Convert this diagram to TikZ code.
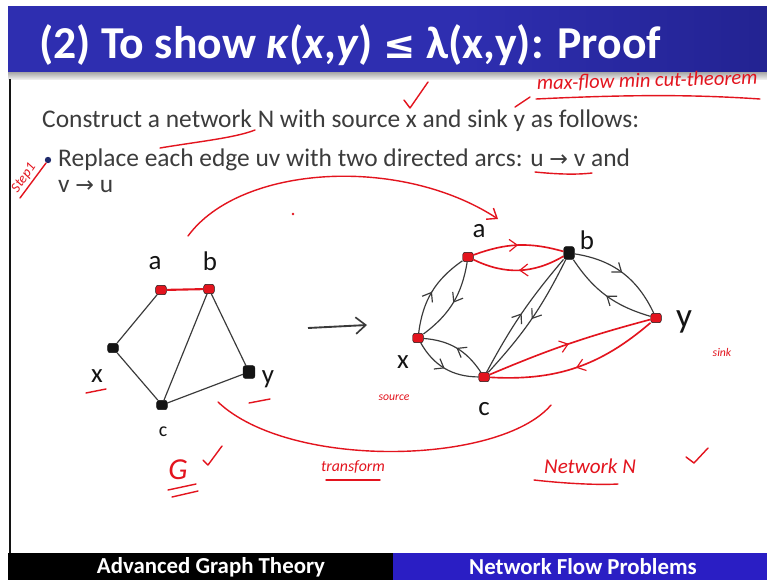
\documentclass[tikz,border=0pt]{standalone}
\usepackage{fontspec}
\setmainfont{Carlito}
\newfontfamily\symfont{DejaVu Sans}
\usetikzlibrary{arrows.meta,positioning,decorations.markings}
\definecolor{titleblue}{HTML}{2E2EB0}
\definecolor{titleblue2}{HTML}{20208A}
\definecolor{footblue}{HTML}{2A1EC4}
\definecolor{bodygray}{HTML}{3C3C3C}
\definecolor{bulletblue}{HTML}{1F2A6B}
\definecolor{inkred}{HTML}{E3141E}
\definecolor{edgegray}{HTML}{3A3A3A}
\definecolor{vblack}{HTML}{141414}
\pgfdeclarehorizontalshading{titlebar}{100bp}{color(0bp)=(titleblue); color(55bp)=(titleblue); color(80bp)=(titleblue2); color(100bp)=(black)}
\newcommand{\arr}{{\symfont\fontsize{19}{22}\selectfont →}}
\tikzset{
  titletext/.style={text=white,font=\bfseries\fontsize{39}{45}\selectfont,inner sep=0pt},
  bodytext/.style={text=bodygray,font=\fontsize{21.7}{26}\selectfont,inner sep=0pt},
  foottext/.style={text=white,font=\bfseries\fontsize{19.5}{22}\selectfont,inner sep=0pt},
  vert/.style={rectangle,rounded corners=2pt,fill=vblack,draw=vblack,inner sep=0pt,
               minimum width=9pt,minimum height=8pt},
  redvert/.style={vert,fill=inkred},
  hand/.style={text=vblack,font=\fontsize{23}{26}\selectfont,inner sep=0pt},
  note/.style={text=inkred,font=\itshape\fontsize{14}{16}\selectfont,inner sep=0pt},
  edge/.style={draw=edgegray,line width=1pt},
  rededge/.style={draw=inkred,line width=1.8pt},
  arc/.style={draw=edgegray,line width=1pt,postaction={decorate},
              decoration={markings,mark=at position 0.5 with
                {\arrow{Straight Barb[length=2.4mm,width=3.6mm,line width=1pt]}}}},
  redarc/.style={arc,draw=inkred,line width=1.4pt},
  ink/.style={draw=inkred,line width=1.2pt,line cap=round,line join=round},
  bigarr/.style={draw=edgegray,line width=1.6pt,-{Straight Barb[length=3mm,width=5mm,line width=1.4pt]}}
}
\begin{document}
\begin{tikzpicture}[x=0.03cm,y=-0.03cm]
  \path[use as bounding box,fill=white] (0,0) rectangle (767,580);

  % title bar and frame
  \shade[shading=titlebar] (8,6) rectangle (767,72);
  \shade[top color=gray!70,bottom color=gray!15] (8,72) rectangle (767,79);
  \draw[vblack,line width=1.5pt] (10,79) -- (10,553);
  \node[titletext,anchor=base west] (title) at (39,58)
    {(2) To show \textit{κ}(\textit{x},\textit{y}) {\symfont\bfseries\fontsize{33}{40}\selectfont ≤} λ(x,y): Proof};

  % footer
  \fill[black] (8,553) rectangle (393,580);
  \fill[footblue] (393,553) rectangle (767,580);
  \node[foottext] (foot1) at (211,567) {Advanced Graph Theory};
  \node[foottext] (foot2) at (583,567) {Network Flow Problems};

  % text lines
  \node[bodytext,anchor=base west] (line1) at (42,127)
    {Construct a network N with source x and sink y as follows:};
  \fill[bulletblue] (48,160) circle (3.2);
  \node[bodytext,anchor=base west] (line2) at (58,166)
    {Replace each edge uv with two directed arcs: u \arr{} v and};
  \node[bodytext,anchor=base west] (line3) at (58,192) {v \arr{} u};

  % graph G
  \node[redvert] (la) at (161,290) {};
  \node[redvert] (lb) at (209,289) {};
  \node[vert] (lx) at (113,348) {};
  \node[vert,minimum width=10pt,minimum height=11pt] (ly) at (249,372) {};
  \node[vert] (lc) at (162,405) {};
  \draw[rededge] (la) -- (lb);
  \draw[edge] (la) -- (lx);
  \draw[edge] (lx) -- (lc);
  \draw[edge] (lc) -- (lb);
  \draw[edge] (lb) -- (ly);
  \draw[edge] (ly) -- (lc);
  \node[hand] (la-lbl) at (155,263) {a};
  \node[hand] (lb-lbl) at (210,261) {b};
  \node[hand] (lx-lbl) at (97,376) {x};
  \node[hand] (ly-lbl) at (268,379) {y};
  \node[hand,font=\fontsize{17}{20}\selectfont] (lc-lbl) at (163,432) {c};

  % transform arrow
  \coordinate (t1) at (308,328);
  \coordinate (t2) at (367,325);
  \draw[bigarr] (t1) -- (t2);

  % network N
  \node[redvert] (ra) at (468,257) {};
  \node[vert,minimum height=11pt] (rb) at (569,253) {};
  \node[redvert] (rx) at (418,338) {};
  \node[redvert] (rc) at (484,377) {};
  \node[redvert] (ry) at (656,318) {};
  \draw[redarc] (ra) to[bend left=18] (rb);
  \draw[redarc] (rb) to[bend left=28] (ra);
  \draw[arc] (rx) to[bend left=24] (ra);
  \draw[arc] (ra) to[bend left=22] (rx);
  \draw[arc] (rb) to[bend left=28] (ry);
  \draw[arc] (ry) to[bend left=20] (rb);
  \draw[arc] (rc) to[bend right=26] (rx);
  \draw[arc] (rx) to[bend right=30] (rc);
  \draw[arc] (rc) to[bend left=6] (rb);
  \draw[arc] (rb) to[bend left=8] (rc);
  \draw[redarc] (rc) to[bend left=4] (ry);
  \draw[redarc] (ry) to[bend left=22] (rc);
  \node[hand] (ra-lbl) at (479,231) {a};
  \node[hand] (rb-lbl) at (587,240) {b};
  \node[hand] (rx-lbl) at (403,362) {x};
  \node[hand] (rc-lbl) at (484,409) {c};
  \node[hand,font=\fontsize{30}{32}\selectfont] (ry-lbl) at (684,322) {y};
  \node[note,font=\itshape\fontsize{10}{12}\selectfont] (src) at (394,398) {source};
  \node[note,font=\itshape\fontsize{10}{12}\selectfont] (snk) at (722,352) {sink};

  % red handwriting
  \node[note,rotate=1.5,anchor=base west,font=\itshape\fontsize{17.5}{20}\selectfont] (thm) at (537,90) {max-flow min cut-theorem};
  \draw[ink] (536,99) .. controls (640,94) and (700,95) .. (760,99);
  \draw[ink] (515,107) -- (530,97);
  \draw[ink] (404,100) -- (410,108) -- (428,82);
  \draw[ink] (160,148) .. controls (195,142) and (235,138) .. (255,130);
  \draw[ink] (535,172) .. controls (555,174) and (575,175) .. (592,173);
  \node[note,rotate=55,font=\itshape\fontsize{12}{14}\selectfont] (step) at (24,178) {Step1};
  \draw[ink] (46,163) -- (20,198);
  \coordinate (c1) at (188,236);
  \coordinate (c2) at (498,219);
  \draw[ink,-{Straight Barb[length=2.6mm,width=4mm]}] (c1) .. controls (240,165) and (400,155) .. (c2);
  \fill[inkred] (293,214) circle (1.3);
  \coordinate (d1) at (218,402);
  \coordinate (d2) at (551,405);
  \draw[ink] (d1) .. controls (290,470) and (500,465) .. (d2);
  \draw[ink] (86,393) -- (106,389);
  \draw[ink] (249,403) -- (270,399);
  \draw[ink] (203,460) -- (208,465) -- (222,446);
  \node[note,font=\itshape\fontsize{26}{28}\selectfont] (glbl) at (178,470) {G};
  \draw[ink] (168,490) -- (196,484);
  \draw[ink] (172,497) -- (198,491);
  \node[note,font=\itshape\fontsize{13.5}{15}\selectfont] (trans) at (353,467) {transform};
  \draw[ink] (326,480) -- (380,480);
  \node[note,font=\itshape\fontsize{18}{20}\selectfont] (netN) at (590,466) {Network N};
  \draw[ink] (534,480) .. controls (570,484) and (600,485) .. (618,484);
  \draw[ink] (686,457) -- (694,463) -- (708,448);
\end{tikzpicture}
\end{document}
